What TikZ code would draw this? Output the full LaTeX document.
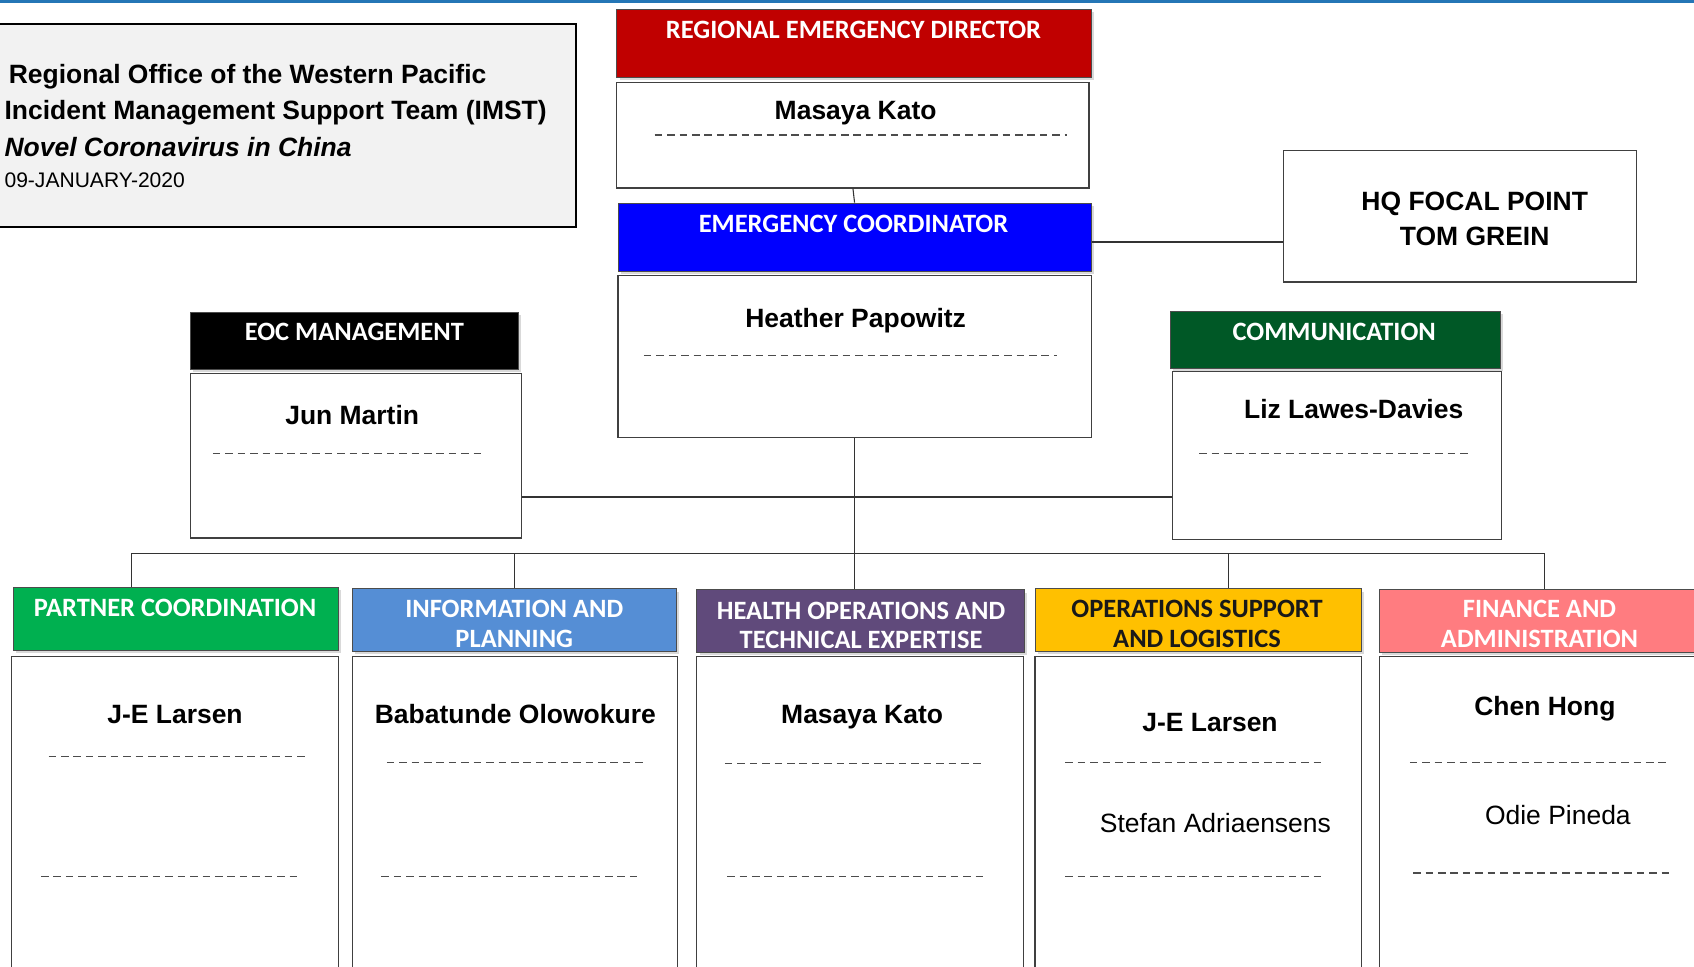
\documentclass[tikz,border=0pt]{standalone}
\usepackage{fontspec}
\setmainfont{Liberation Sans}
\newfontfamily\calibri{Carlito}
\usetikzlibrary{shadows}

\definecolor{topline}{RGB}{36,118,182}
\definecolor{titlegray}{HTML}{F2F2F2}
\definecolor{redhd}{HTML}{C00000}
\definecolor{bluehd}{HTML}{0000FF}
\definecolor{commhd}{RGB}{0,88,38}
\definecolor{partnerhd}{HTML}{00B050}
\definecolor{infohd}{HTML}{558ED5}
\definecolor{healthhd}{HTML}{604A7B}
\definecolor{opshd}{HTML}{FFC000}
\definecolor{financehd}{HTML}{FF7C80}

\begin{document}
\begin{tikzpicture}[x=1pt, y=-1pt,
        pbox/.style={draw=black!75, line width=1pt, fill=white, inner sep=0pt},
        hdbox/.style={draw=black!70, line width=0.8pt, inner sep=0pt,
            drop shadow={shadow xshift=2.5pt, shadow yshift=-2.5pt, opacity=0.3}},
        hdtext/.style={font=\calibri\bfseries\fontsize{24.5}{27}\selectfont, text=white, align=center, inner sep=0pt},
        person/.style={font=\bfseries\fontsize{24.5}{29}\selectfont, anchor=base, inner sep=0pt},
        deputy/.style={font=\fontsize{24.5}{29}\selectfont, anchor=base, inner sep=0pt},
        sepline/.style={draw=black!70, line width=1.2pt, dash pattern=on 7pt off 4.5pt},
        link/.style={draw=black!80, line width=1pt}]

    \useasboundingbox (0,0) rectangle (1568,895);
    \clip (0,0) rectangle (1568,895);
    \fill[topline] (0,0) rectangle (1568,3);

    % title block
    \node[draw=black, line width=1.6pt, fill=titlegray, minimum width=538pt, minimum height=188pt, inner sep=0pt] (title) at (264,116) {};
    \node[anchor=base west, inner sep=0pt, font=\bfseries\fontsize{24.5}{29}\selectfont] (t1) at (8,77) {Regional Office of the Western Pacific};
    \node[anchor=base west, inner sep=0pt, font=\bfseries\fontsize{24.5}{29}\selectfont] (t2) at (4,111) {Incident Management Support Team (IMST)};
    \node[anchor=base west, inner sep=0pt, font=\bfseries\itshape\fontsize{24.5}{29}\selectfont] (t3) at (4,145) {Novel Coronavirus in China};
    \node[anchor=base west, inner sep=0pt, font=\fontsize{19.5}{23}\selectfont] (t4) at (4,174) {09-JANUARY-2020};

    % director and coordinator
    \node[hdbox, fill=redhd, minimum width=439pt, minimum height=63pt] (redir) at (790.5,40.5) {};
    \node[hdtext] (redirt) at (790,28) {REGIONAL EMERGENCY DIRECTOR};
    \node[pbox, minimum width=437pt, minimum height=98pt] (kato) at (789.5,125) {};
    \node[person] (katot) at (792,111) {Masaya Kato};
    \draw[sepline] (606,125) -- (988,125);

    \node[hdbox, fill=bluehd, minimum width=438pt, minimum height=63pt] (echd) at (791,219.5) {};
    \node[hdtext] (echdt) at (790,207) {EMERGENCY COORDINATOR};
    \node[pbox, minimum width=438pt, minimum height=150pt] (papo) at (791,330) {};
    \node[person] (papot) at (792,303) {Heather Papowitz};
    \draw[sepline] (596,329) -- (978,329);

    \node[pbox, minimum width=327pt, minimum height=122pt] (hq) at (1351.5,200) {};
    \node[align=center, inner sep=0pt, font=\bfseries\fontsize{24.5}{33}\selectfont] (hqt) at (1365,202.5) {HQ FOCAL POINT\\TOM GREIN};

    % EOC management and communication
    \node[hdbox, fill=black, minimum width=304pt, minimum height=53pt] (eochd) at (328,315.5) {};
    \node[hdtext] (eochdt) at (328,307) {EOC MANAGEMENT};
    \node[pbox, minimum width=307pt, minimum height=152pt] (martin) at (329.5,422) {};
    \node[person] (martint) at (326,393) {Jun Martin};
    \draw[sepline] (197,420) -- (450,420);

    \node[hdbox, fill=commhd, minimum width=306pt, minimum height=53pt] (comhd) at (1236,314.5) {};
    \node[hdtext] (comhdt) at (1235,307) {COMMUNICATION};
    \node[pbox, minimum width=305pt, minimum height=155pt] (lawes) at (1237.5,421.5) {};
    \node[person] (lawest) at (1253,387) {Liz Lawes-Davies};
    \draw[sepline] (1110,420) -- (1363,420);

    % sections
    \node[hdbox, fill=partnerhd, minimum width=301pt, minimum height=58pt] (pchd) at (162.5,573) {};
    \node[hdtext] (pchdt) at (162,563) {PARTNER COORDINATION};
    \node[hdbox, fill=infohd, minimum width=300pt, minimum height=58pt] (iphd) at (476,574) {};
    \node[hdtext] (iphdt) at (476,577.5) {INFORMATION AND\\PLANNING};
    \node[hdbox, fill=healthhd, minimum width=303pt, minimum height=58pt] (hohd) at (796.5,575) {};
    \node[hdtext] (hohdt) at (797,579) {HEALTH OPERATIONS AND\\TECHNICAL EXPERTISE};
    \node[hdbox, fill=opshd, minimum width=302pt, minimum height=58pt] (oshd) at (1109,574) {};
    \node[hdtext, text=black!90] (oshdt) at (1108,577.5) {OPERATIONS SUPPORT\\AND LOGISTICS};
    \node[hdbox, fill=financehd, minimum width=302pt, minimum height=58pt] (fahd) at (1428,575) {};
    \node[hdtext] (fahdt) at (1425,577.5) {FINANCE AND\\ADMINISTRATION};

    \node[pbox, minimum width=302pt, minimum height=302pt] (pcbox) at (162,759) {};
    \node[person] (pct) at (162,670) {J-E Larsen};
    \draw[sepline] (45,700) -- (285,700);
    \draw[sepline] (38,811) -- (278,811);

    \node[pbox, minimum width=301pt, minimum height=302pt] (ipbox) at (476.5,759) {};
    \node[person] (ipt) at (477,670) {Babatunde Olowokure};
    \draw[sepline] (358,706) -- (598,706);
    \draw[sepline] (353,811) -- (593,811);

    \node[pbox, minimum width=302pt, minimum height=302pt] (hobox) at (796,759) {};
    \node[person] (hot) at (798,670) {Masaya Kato};
    \draw[sepline] (671,707) -- (910,707);
    \draw[sepline] (673,811) -- (911,811);

    \node[pbox, minimum width=302pt, minimum height=302pt] (osbox) at (1109,759) {};
    \node[person] (ost) at (1120,677) {J-E Larsen};
    \node[deputy] (osd) at (1125,771) {Stefan Adriaensens};
    \draw[sepline] (986,706) -- (1225,706);
    \draw[sepline] (986,811) -- (1225,811);

    \node[pbox, minimum width=302pt, minimum height=302pt] (fabox) at (1428,759) {};
    \node[person] (fat) at (1430,662) {Chen Hong};
    \node[deputy] (fad) at (1442,763) {Odie Pineda};
    \draw[sepline] (1305,706) -- (1543,706);
    \draw[sepline] (1308,808) -- (1546,808);

    % connectors
    \coordinate (hqlink) at (1010,224);
    \coordinate (hub) at (791,460);
    \coordinate (bus) at (791,512);
    \coordinate (b1) at (122,512);
    \coordinate (b2) at (476,512);
    \coordinate (b4) at (1137,512);
    \coordinate (b5) at (1430,512);
    \draw[link] (kato.south) -- (echd.north);
    \draw[link] (echd.east |- hqlink) -- (hq.west |- hqlink);
    \draw[link] (papo.south) -- (bus);
    \draw[link] (martin.east |- hub) -- (lawes.west |- hub);
    \draw[link] (b1) -- (b5);
    \draw[link] (b1) -- (b1 |- pchd.north);
    \draw[link] (b2) -- (b2 |- iphd.north);
    \draw[link] (bus) -- (bus |- hohd.north);
    \draw[link] (b4) -- (b4 |- oshd.north);
    \draw[link] (b5) -- (b5 |- fahd.north);
\end{tikzpicture}
\end{document}
